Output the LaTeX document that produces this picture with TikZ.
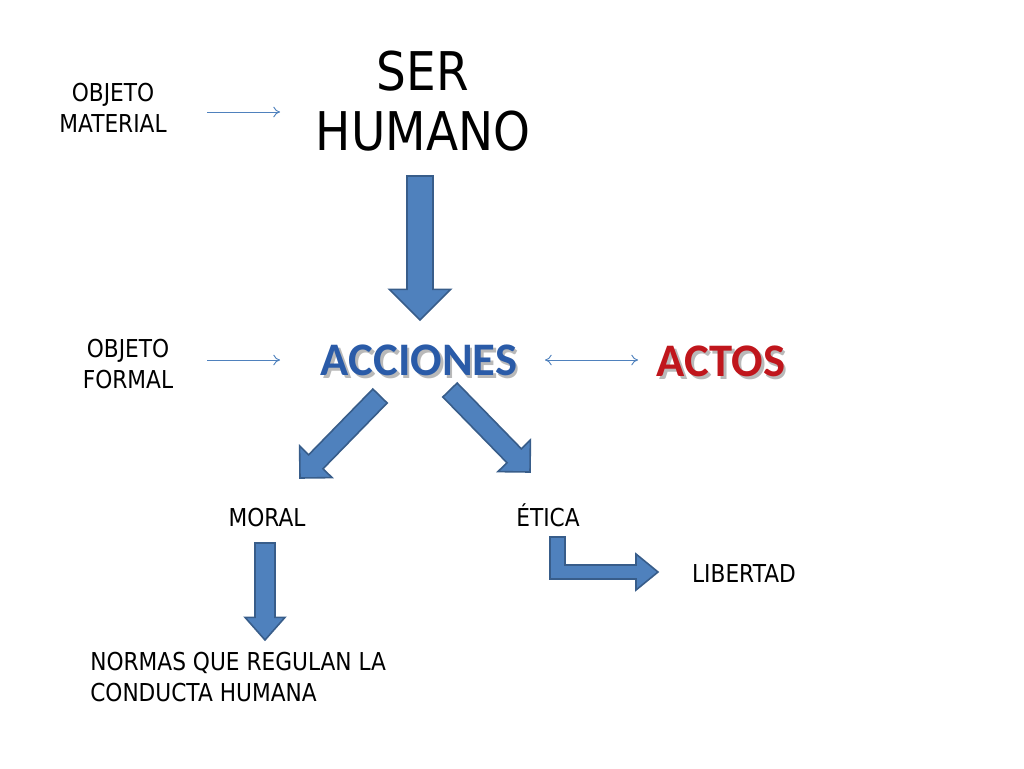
\documentclass[tikz,border=0pt]{standalone}
\usepackage{fontspec}
\setmainfont{DejaVu Sans}[FakeStretch=0.88]
\newfontfamily\calib{Carlito}
\usetikzlibrary{calc,arrows.meta}
\definecolor{ablue}{HTML}{4F81BD}
\definecolor{adark}{HTML}{385D8A}
\definecolor{tblue}{HTML}{2A5BA8}
\definecolor{tred}{HTML}{C0161C}
\newcommand{\barrow}[5]{%
 \coordinate (H) at ($(#2)!#5!(#1)$);
 \filldraw[blockst] ($(#1)!#3!90:(#2)$) -- ($(H)!#3!90:(#2)$) -- ($(H)!#4!90:(#2)$) -- (#2) -- ($(H)!#4!-90:(#2)$) -- ($(H)!#3!-90:(#2)$) -- ($(#1)!#3!-90:(#2)$) -- cycle;}
\newcommand{\shadowed}[2]{\makebox[0pt][l]{\hspace{2pt}\raisebox{-2pt}{\color{gray!55}#2}}{\color{#1}#2}}
\begin{document}
\begin{tikzpicture}[x=0.75pt,y=-0.75pt,
 blockst/.style={fill=ablue,draw=adark,line width=1.2pt,line join=miter},
 thin/.style={draw=ablue,line width=0.7pt,-{To[length=5pt,width=8pt]}},
 lbl/.style={font=\fontsize{18.5}{23}\selectfont,align=center,inner sep=0},
 big/.style={font=\calib\bfseries\fontsize{35}{40}\selectfont,inner sep=0}]
\useasboundingbox (0,0) rectangle (1024,768);
\node[font=\fontsize{40}{45}\selectfont,align=center,inner sep=0] (ser) at (423,101) {SER\\HUMANO};
\node[lbl] (om) at (113,108) {OBJETO\\MATERIAL};
\node[lbl] (of) at (128,364) {OBJETO\\FORMAL};
\node[big] (acc) at (419,362) {\shadowed{tblue}{ACCIONES}};
\node[big] (act) at (721,363) {\shadowed{tred}{ACTOS}};
\node[lbl,anchor=base] (mor) at (267,526) {MORAL};
\node[lbl,anchor=base] (eti) at (548,526) {ÉTICA};
\node[lbl,anchor=base] (lib) at (744,582) {LIBERTAD};
\node[lbl,align=left,anchor=west] (nor) at (90,677) {NORMAS QUE REGULAN LA\\CONDUCTA HUMANA};
\coordinate (om1) at (207,112); \coordinate (om2) at (280,112);
\coordinate (of1) at (207,360); \coordinate (of2) at (280,360);
\coordinate (ac1) at (545,360); \coordinate (ac2) at (638,360);
\draw[thin] (om1) -- (om2);
\draw[thin] (of1) -- (of2);
\draw[thin,{To[length=5pt,width=8pt]}-{To[length=5pt,width=8pt]}] (ac1) -- (ac2);
\coordinate (a1) at (420,176); \coordinate (a2) at (420,320);
\barrow{a1}{a2}{9.75pt}{23pt}{23pt}
\coordinate (l1) at (380,396); \coordinate (l2) at (300,478);
\barrow{l1}{l2}{7.5pt}{17pt}{17pt}
\coordinate (r1) at (450,390); \coordinate (r2) at (530,472);
\barrow{r1}{r2}{7.5pt}{17pt}{17pt}
\coordinate (m1) at (265,543); \coordinate (m2) at (265,640);
\barrow{m1}{m2}{7.5pt}{15pt}{17pt}
\filldraw[blockst] (550,537) -- (565,537) -- (565,565) -- (636,565) -- (636,554) -- (658,572) -- (636,590) -- (636,579) -- (550,579) -- cycle;
\end{tikzpicture}
\end{document}
